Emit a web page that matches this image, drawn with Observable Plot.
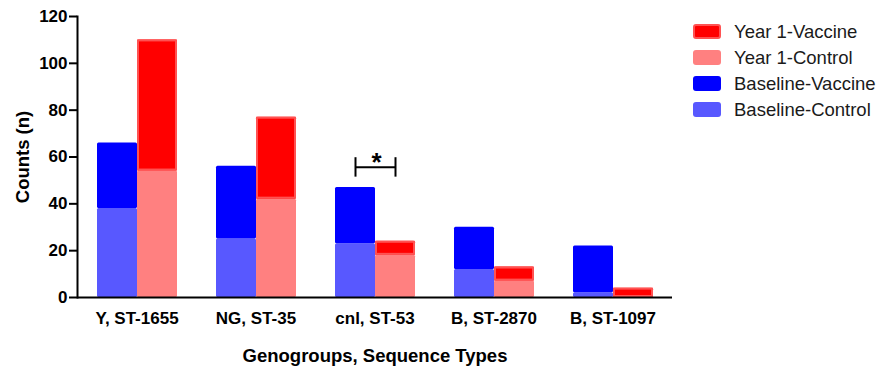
<!DOCTYPE html>
<html><head><meta charset="utf-8">
<script src="https://cdn.jsdelivr.net/npm/d3@7"></script>
<script src="https://cdn.jsdelivr.net/npm/@observablehq/plot@0.6"></script>
<style>
body{margin:0;background:#fff;}
#wrap{position:relative;width:881px;height:367px;font-family:"Liberation Sans",Arial,sans-serif;}
#legend{position:absolute;left:693px;top:18.5px;}
.row{display:flex;align-items:center;height:26px;}
.sw{width:28px;height:15px;border-radius:3px;margin-right:13px;box-sizing:border-box;}
.lab{font-size:18.5px;color:#1a1a1a;white-space:nowrap;}
</style></head><body><div id="wrap"><div id="legend"></div></div>
<script>
// ---- data ----
const groups = ["Y, ST-1655", "NG, ST-35", "cnl, ST-53", "B, ST-2870", "B, ST-1097"];
const periods = ["Baseline", "Year 1"];
const baselineControl = [38, 25, 23, 12, 2];
const baselineVaccine = [28, 31, 24, 18, 20];
const year1Control = [54, 42, 18, 7, 0];
const year1Vaccine = [56, 35, 6, 6, 4];
const seriesNames = ["Year 1-Vaccine", "Year 1-Control", "Baseline-Vaccine", "Baseline-Control"];
const seriesColors = ["#ff0000", "#ff8080", "#0000ff", "#5858ff"];
const yTicks = [0, 20, 40, 60, 80, 100, 120];
// significance bracket annotation (value units)
const sigBracket = [{group: "cnl, ST-53", y: 55.6, capLow: 51.4, capHigh: 59.7, label: "*", labelY: 57.6}];

// ---- table ----
const rows = [];
groups.forEach((g, i) => {
  rows.push({group: g, period: "Baseline", series: "Baseline-Control", value: baselineControl[i]});
  rows.push({group: g, period: "Baseline", series: "Baseline-Vaccine", value: baselineVaccine[i]});
  rows.push({group: g, period: "Year 1", series: "Year 1-Control", value: year1Control[i]});
  rows.push({group: g, period: "Year 1", series: "Year 1-Vaccine", value: year1Vaccine[i]});
});
const caps = sigBracket.flatMap(d => periods.map(p => ({...d, period: p})));
const outlined = d => d.series === "Year 1-Vaccine" ? 1 : 0;

const plot = Plot.plot({
  width: 881, height: 367,
  marginLeft: 76, marginRight: 208, marginTop: 16, marginBottom: 70,
  style: {fontFamily: "Liberation Sans, Arial, sans-serif", fontSize: "17px", fontWeight: "bold", color: "#000", background: "#fff"},
  fx: {domain: groups, padding: 0, axis: null},
  x: {domain: periods, paddingInner: 0, paddingOuter: 0.456, axis: null},
  y: {domain: [0, 120], axis: null},
  color: {domain: seriesNames, range: seriesColors},
  opacity: {type: "identity"},
  marks: [
    Plot.axisY({ticks: yTicks, tickSize: 8, tickPadding: 2, label: null, stroke: "#000", strokeWidth: 2}),
    Plot.axisY({ticks: [], tickSize: 0, label: "Counts (n)", labelAnchor: "center", labelArrow: "none", labelOffset: 62, fontSize: 18.5}),
    Plot.frame({anchor: "left", facetAnchor: "left", stroke: "#000", strokeWidth: 2}),
    Plot.axisFx({anchor: "bottom", tickSize: 0, tickPadding: 14, label: null}),
    Plot.axisFx({anchor: "bottom", ticks: [], tickSize: 0, label: "Genogroups, Sequence Types", labelAnchor: "center", labelArrow: "none", labelOffset: 64, fontSize: 18.5}),
    Plot.barY(rows, Plot.stackY({fx: "group", x: "period", y: "value", fill: "series", rx: 1.5})),
    Plot.barY(rows, Plot.stackY({fx: "group", x: "period", y: "value", fill: "series", fillOpacity: outlined, stroke: "#ff5252", strokeOpacity: outlined, strokeWidth: 2, inset: 1})),
    Plot.ruleY([0], {stroke: "#000", strokeWidth: 2}),
    Plot.link(sigBracket, {fx: "group", x1: () => periods[0], x2: () => periods[1], y1: "y", y2: "y", stroke: "#000", strokeWidth: 2}),
    Plot.ruleX(caps, {fx: "group", x: "period", y1: "capLow", y2: "capHigh", stroke: "#000", strokeWidth: 2}),
    Plot.text(sigBracket, {fx: "group", frameAnchor: "middle", y: "labelY", text: "label", fontSize: 26, fontWeight: "bold", fill: "#000", dx: 1.5})
  ]
});
document.getElementById("wrap").prepend(plot);

// legend
const lg = d3.select("#legend");
seriesNames.forEach((s, i) => {
  const r = lg.append("div").attr("class", "row");
  const sw = r.append("div").attr("class", "sw").style("background", seriesColors[i]);
  if (i === 0) sw.style("border", "2.5px solid #ff5252");
  r.append("div").attr("class", "lab").text(s);
});
</script></body></html>
